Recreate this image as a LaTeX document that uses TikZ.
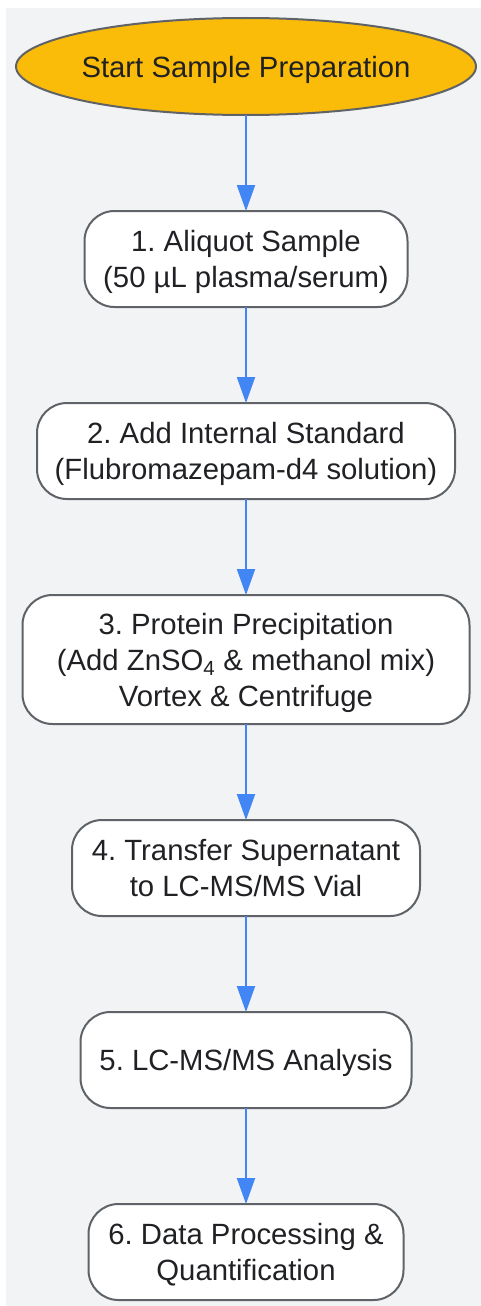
\documentclass[tikz,border=0pt]{standalone}
\usepackage{fontspec}
\setmainfont{Liberation Sans}
\usetikzlibrary{positioning}
\usetikzlibrary{shapes.geometric}
\usetikzlibrary{arrows.meta}

\definecolor{bggray}{HTML}{F1F3F5}
\definecolor{edgegray}{HTML}{5F6368}
\definecolor{startyellow}{HTML}{FABC09}
\definecolor{flowblue}{HTML}{4285F4}
\definecolor{textdark}{HTML}{202124}

\frenchspacing
\begin{document}
\begin{tikzpicture}[x=1pt, y=-1pt, node distance=96pt, font=\fontsize{29.3}{36}\selectfont,
	start/.style={ellipse, draw=edgegray, fill=startyellow, line width=2pt, outer sep=0pt, text=textdark, text depth=0pt, minimum width=460pt, minimum height=97pt, inner xsep=-4pt, inner ysep=0pt},
	stepbox/.style={rectangle, rounded corners=30pt, draw=edgegray, fill=white, line width=2pt, outer sep=0pt, text=textdark, text depth=0pt, align=center, minimum height=96pt, inner xsep=10pt},
	flow/.style={-{Triangle[length=26pt, width=18pt]}, flowblue, line width=2pt}]
	% background
	\useasboundingbox (0,0) rectangle (481,1306);
	\fill[bggray] (6,8) rectangle (481,1306);

	% nodes
	\node[start] (start) at (246,66.5) {Start Sample Preparation}; %
	\node[stepbox, below=of start, minimum width=323pt] (aliquot) {1. Aliquot Sample\\(50 µL plasma/serum)}; %
	\node[stepbox, below=of aliquot, minimum width=418pt] (istd) {2. Add Internal Standard\\(Flubromazepam-d4 solution)}; %
	\node[stepbox, below=of istd, minimum width=447pt, minimum height=129pt] (precip) {3. Protein Precipitation\\(Add ZnSO\textsubscript{4} \& methanol mix)\\Vortex \& Centrifuge}; %
	\node[stepbox, below=of precip, minimum width=348pt] (transfer) {4. Transfer Supernatant\\to LC-MS/MS Vial}; %
	\node[stepbox, below=of transfer, minimum width=331pt] (lcms) {5. LC-MS/MS Analysis}; %
	\node[stepbox, below=of lcms, minimum width=315pt] (quant) {6. Data Processing \&\\Quantification}; %

	% edges
	\draw [flow] (start) -- (aliquot);
	\draw [flow] (aliquot) -- (istd);
	\draw [flow] (istd) -- (precip);
	\draw [flow] (precip) -- (transfer);
	\draw [flow] (transfer) -- (lcms);
	\draw [flow] (lcms) -- (quant);
\end{tikzpicture}
\end{document}
